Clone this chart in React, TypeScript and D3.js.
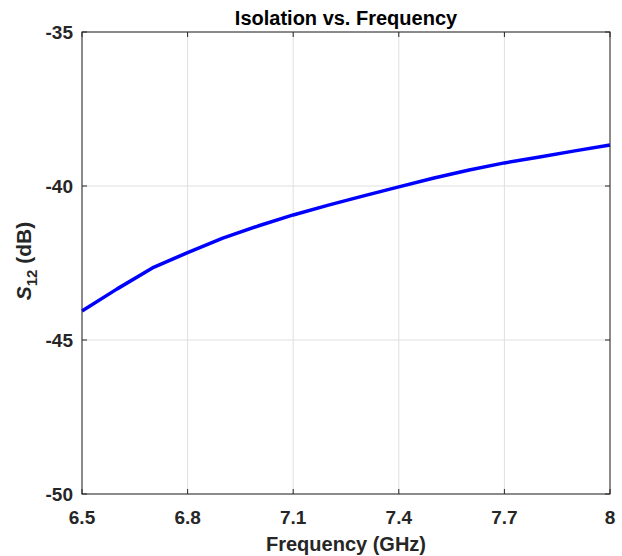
import React from "react";
import * as d3 from "d3";

const freqs = [6.5, 6.6, 6.7, 6.8, 6.9, 7.0, 7.1, 7.2, 7.3, 7.4, 7.5, 7.6, 7.7, 7.8, 7.9, 8.0];
const s12 = [-44.06, -43.34, -42.66, -42.16, -41.69, -41.3, -40.94, -40.62, -40.32, -40.03, -39.74, -39.48, -39.25, -39.06, -38.86, -38.67];
const xTicks = [6.5, 6.8, 7.1, 7.4, 7.7, 8];
const xTickLabels = ["6.5", "6.8", "7.1", "7.4", "7.7", "8"];
const yTicks = [-50, -45, -40, -35];
const yTickLabels = ["-50", "-45", "-40", "-35"];

export default function App() {
  const W = 622, H = 556;
  const L = 82, R = 610, T = 32, B = 494;
  const x = d3.scaleLinear().domain([6.5, 8]).range([L, R]);
  const y = d3.scaleLinear().domain([-50, -35]).range([B, T]);
  const line = d3.line<number>().x((_, i) => x(freqs[i])).y((d) => y(d));
  const font = "'Liberation Sans', Arial, Helvetica, sans-serif";
  const axisColor = "#262626";
  return (
    <svg width={W} height={H} style={{ position: "absolute", left: 0, top: 0, background: "#fff" }} fontFamily={font}>
      <rect x={0} y={0} width={W} height={H} fill="#fff" />
      {xTicks.map((t) => (
        <line key={"gx" + t} x1={x(t)} x2={x(t)} y1={T} y2={B} stroke="#dfdfdf" strokeWidth={1} />
      ))}
      {yTicks.map((t) => (
        <line key={"gy" + t} x1={L} x2={R} y1={y(t)} y2={y(t)} stroke="#dfdfdf" strokeWidth={1} />
      ))}
      <path d={line(s12) || ""} fill="none" stroke="#0000ff" strokeWidth={3.5} strokeLinejoin="round" />
      <rect x={L} y={T} width={R - L} height={B - T} fill="none" stroke={axisColor} strokeWidth={1} />
      {xTicks.map((t) => (
        <g key={"tx" + t}>
          <line x1={x(t)} x2={x(t)} y1={B} y2={B - 5} stroke={axisColor} />
          <line x1={x(t)} x2={x(t)} y1={T} y2={T + 5} stroke={axisColor} />
        </g>
      ))}
      {yTicks.map((t) => (
        <g key={"ty" + t}>
          <line x1={L} x2={L + 5} y1={y(t)} y2={y(t)} stroke={axisColor} />
          <line x1={R} x2={R - 5} y1={y(t)} y2={y(t)} stroke={axisColor} />
        </g>
      ))}
      {xTicks.map((t, i) => (
        <text key={"lx" + t} x={x(t)} y={B + 30} textAnchor="middle" fontSize={19} fontWeight="bold" fill={axisColor}>
          {xTickLabels[i]}
        </text>
      ))}
      {yTicks.map((t, i) => (
        <text key={"ly" + t} x={L - 9} y={y(t) + 7} textAnchor="end" fontSize={19} fontWeight="bold" fill={axisColor}>
          {yTickLabels[i]}
        </text>
      ))}
      <text x={(L + R) / 2} y={25} textAnchor="middle" fontSize={20} fontWeight="bold" fill="#000">
        Isolation vs. Frequency
      </text>
      <text x={(L + R) / 2} y={551} textAnchor="middle" fontSize={20} fontWeight="bold" fill={axisColor}>
        Frequency (GHz)
      </text>
      <text transform={`translate(31, ${(T + B) / 2 - 2}) rotate(-90)`} textAnchor="middle" fontSize={21} fontWeight="bold" fill={axisColor}>
        <tspan fontStyle="italic">S</tspan>
        <tspan fontSize={15} dy={6}>12</tspan>
        <tspan dy={-6}> (dB)</tspan>
      </text>
    </svg>
  );
}
